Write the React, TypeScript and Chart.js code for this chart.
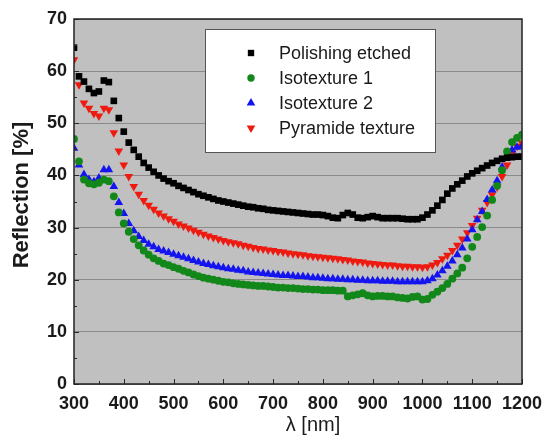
import React, { useEffect, useRef } from "react";
import { Chart, registerables } from "chart.js";
import { drawPoint } from "chart.js/helpers";

Chart.register(...registerables);

const wavelengths: number[] = [
  300, 310, 320, 330, 340, 350, 360, 370, 380, 390,
  400, 410, 420, 430, 440, 450, 460, 470, 480, 490,
  500, 510, 520, 530, 540, 550, 560, 570, 580, 590,
  600, 610, 620, 630, 640, 650, 660, 670, 680, 690,
  700, 710, 720, 730, 740, 750, 760, 770, 780, 790,
  800, 810, 820, 830, 840, 850, 860, 870, 880, 890,
  900, 910, 920, 930, 940, 950, 960, 970, 980, 990,
  1000, 1010, 1020, 1030, 1040, 1050, 1060, 1070, 1080, 1090,
  1100, 1110, 1120, 1130, 1140, 1150, 1160, 1170, 1180, 1190,
  1200,
];

const polishingEtched: number[] = [
  64.5, 59.0, 58.0, 56.6, 55.8, 56.1, 58.2, 57.9, 54.3, 51.0,
  48.4, 46.3, 44.9, 43.6, 42.4, 41.5, 40.7, 40.0, 39.4, 38.9,
  38.5, 38.0, 37.6, 37.2, 36.8, 36.4, 36.1, 35.8, 35.5, 35.2,
  35.0, 34.8, 34.6, 34.4, 34.2, 34.0, 33.9, 33.7, 33.6, 33.4,
  33.3, 33.2, 33.1, 33.0, 32.9, 32.8, 32.7, 32.6, 32.5, 32.5,
  32.4, 32.2, 31.9, 31.8, 32.4, 32.8, 32.5, 31.9, 31.8, 32.0,
  32.2, 32.0, 31.8, 31.8, 31.8, 31.8, 31.7, 31.6, 31.6, 31.6,
  31.9, 32.5, 33.3, 34.2, 35.3, 36.5, 37.5, 38.3, 39.0, 39.8,
  40.4, 40.9, 41.4, 41.9, 42.4, 42.8, 43.2, 43.4, 43.5, 43.6,
  43.6,
];

const isotexture1: number[] = [
  47.0, 42.7, 39.2, 38.5, 38.3, 38.6, 39.2, 38.9, 36.0, 32.9,
  30.8, 29.2, 27.8, 26.6, 25.6, 24.8, 24.1, 23.6, 23.1, 22.8,
  22.4, 22.1, 21.7, 21.4, 21.0, 20.7, 20.4, 20.2, 20.0, 19.8,
  19.6, 19.5, 19.3, 19.2, 19.1, 19.0, 18.9, 18.8, 18.8, 18.7,
  18.6, 18.5, 18.5, 18.4, 18.4, 18.3, 18.2, 18.2, 18.1, 18.1,
  18.0, 18.0, 18.0, 17.9, 17.9, 16.8, 17.0, 17.2, 17.4, 17.0,
  16.8, 16.9, 16.9, 16.8, 16.8, 16.6, 16.5, 16.4, 16.7, 16.8,
  16.2, 16.3, 17.1, 17.7, 18.4, 19.2, 20.2, 21.2, 22.3, 24.1,
  26.3, 28.2, 30.1, 32.3, 35.3, 38.0, 41.0, 44.6, 46.4, 47.2,
  47.8,
];

const isotexture2: number[] = [
  45.2, 42.0, 40.2, 39.2, 38.8, 39.5, 41.1, 41.1, 37.9, 34.8,
  32.7, 30.8, 29.4, 28.3, 27.5, 26.8, 26.3, 25.8, 25.5, 25.2,
  24.9, 24.6, 24.3, 24.0, 23.7, 23.4, 23.1, 22.9, 22.7, 22.5,
  22.3, 22.1, 22.0, 21.8, 21.7, 21.5, 21.4, 21.3, 21.2, 21.1,
  21.0, 20.9, 20.8, 20.8, 20.7, 20.6, 20.6, 20.5, 20.4, 20.4,
  20.3, 20.2, 20.2, 20.1, 20.1, 20.0, 20.0, 19.9, 19.9, 19.8,
  19.8, 19.8, 19.7, 19.7, 19.7, 19.6, 19.6, 19.6, 19.6, 19.6,
  19.6, 19.8, 20.2, 20.9, 21.7, 22.6, 23.6, 24.8, 26.1, 27.8,
  29.6, 31.5, 33.1, 35.4, 37.2, 39.0, 41.6, 43.5, 44.9, 45.4,
  45.6,
];

const pyramideTexture: number[] = [
  62.2, 57.4, 53.9, 52.9, 51.9, 51.4, 52.9, 52.6, 48.2, 44.7,
  42.0, 39.8, 37.9, 36.4, 35.2, 34.3, 33.5, 32.8, 32.2, 31.7,
  31.2, 30.7, 30.3, 29.9, 29.5, 29.1, 28.7, 28.4, 28.1, 27.8,
  27.5, 27.3, 27.1, 26.9, 26.6, 26.4, 26.2, 26.0, 25.9, 25.7,
  25.6, 25.4, 25.3, 25.1, 25.0, 24.9, 24.8, 24.6, 24.5, 24.4,
  24.3, 24.2, 24.1, 24.0, 23.9, 23.8, 23.6, 23.5, 23.4, 23.2,
  23.1, 23.0, 22.9, 22.8, 22.8, 22.7, 22.6, 22.6, 22.5, 22.5,
  22.4, 22.5, 22.8, 23.3, 24.0, 24.7, 25.6, 26.6, 27.8, 29.0,
  30.4, 31.8, 33.3, 34.8, 36.3, 37.8, 39.8, 42.0, 44.3, 45.6,
  46.2,
];

const seriesLabels: string[] = [
  "Polishing etched",
  "Isotexture 1",
  "Isotexture 2",
  "Pyramide texture",
];

const xTitle = "λ [nm]";
const yTitle = "Reflection [%]";

const FONT = "Arial, 'Liberation Sans', Helvetica, sans-serif";

const toXY = (vals: number[]) => vals.map((v, i) => ({ x: wavelengths[i], y: v }));

const decorPlugin = {
  id: "decor",
  beforeDraw(chart: any) {
    const { ctx, chartArea } = chart;
    ctx.save();
    ctx.fillStyle = "#ffffff";
    ctx.fillRect(0, 0, chart.width, chart.height);
    ctx.fillStyle = "#c0c0c0";
    ctx.fillRect(chartArea.left, chartArea.top, chartArea.right - chartArea.left, chartArea.bottom - chartArea.top);
    ctx.restore();
  },
  afterDatasetsDraw(chart: any) {
    const { ctx, chartArea, scales } = chart;
    const xs = scales.x;
    const ys = scales.y;
    ctx.save();
    ctx.strokeStyle = "#2a2a2a";
    ctx.lineWidth = 1;
    for (let v = 300; v <= 1200; v += 50) {
      const px = Math.round(xs.getPixelForValue(v)) + 0.5;
      const len = v % 100 === 0 ? 5 : 3;
      ctx.beginPath();
      ctx.moveTo(px, chartArea.bottom);
      ctx.lineTo(px, chartArea.bottom - len);
      ctx.stroke();
    }
    for (let v = 0; v <= 70; v += 5) {
      const py = Math.round(ys.getPixelForValue(v)) + 0.5;
      const len = v % 10 === 0 ? 5 : 3;
      ctx.beginPath();
      ctx.moveTo(chartArea.left, py);
      ctx.lineTo(chartArea.left + len, py);
      ctx.stroke();
    }
    ctx.strokeStyle = "#222222";
    ctx.lineWidth = 1.5;
    ctx.strokeRect(chartArea.left, chartArea.top, chartArea.right - chartArea.left, chartArea.bottom - chartArea.top);
    ctx.restore();
  },
  afterDraw(chart: any) {
    const { ctx } = chart;
    ctx.save();
    const bx = 205, by = 29, bw = 230, bh = 123;
    ctx.fillStyle = "#ffffff";
    ctx.fillRect(bx, by, bw, bh);
    ctx.strokeStyle = "#555555";
    ctx.lineWidth = 1;
    ctx.strokeRect(bx + 0.5, by + 0.5, bw, bh);
    const rowY = [53, 78, 103, 128];
    chart.data.datasets.forEach((ds: any, i: number) => {
      ctx.fillStyle = ds.backgroundColor;
      ctx.strokeStyle = ds.borderColor;
      drawPoint(
        ctx,
        {
          pointStyle: ds.pointStyle,
          rotation: ds.pointRotation || 0,
          radius: ds.legendRadius,
          borderWidth: 0,
        } as any,
        251,
        rowY[i]
      );
      ctx.fillStyle = "#1a1a1a";
      ctx.font = `18px ${FONT}`;
      ctx.textAlign = "left";
      ctx.textBaseline = "middle";
      ctx.fillText(ds.label, 279, rowY[i] + 1);
    });
    ctx.fillStyle = "#1a1a1a";
    ctx.font = `20px ${FONT}`;
    ctx.textAlign = "center";
    ctx.textBaseline = "middle";
    ctx.fillText(xTitle, 313, 425);
    ctx.save();
    ctx.translate(22, 195);
    ctx.rotate(-Math.PI / 2);
    ctx.font = `bold 22px ${FONT}`;
    ctx.fillText(yTitle, 0, 0);
    ctx.restore();
    ctx.restore();
  },
};

export default function App() {
  const canvasRef = useRef<HTMLCanvasElement | null>(null);

  useEffect(() => {
    if (!canvasRef.current) return;
    const chart = new Chart(canvasRef.current, {
      type: "scatter",
      data: {
        datasets: [
          {
            label: seriesLabels[0],
            data: toXY(polishingEtched),
            pointStyle: "rect",
            pointRadius: 4.7,
            backgroundColor: "#000000",
            borderColor: "#000000",
            borderWidth: 0,
            legendRadius: 4.5,
          } as any,
          {
            label: seriesLabels[1],
            data: toXY(isotexture1),
            pointStyle: "circle",
            pointRadius: 3.9,
            backgroundColor: "#12871a",
            borderColor: "#12871a",
            borderWidth: 0,
            legendRadius: 3.7,
          } as any,
          {
            label: seriesLabels[2],
            data: toXY(isotexture2),
            pointStyle: "triangle",
            pointRadius: 5,
            backgroundColor: "#1414f0",
            borderColor: "#1414f0",
            borderWidth: 0,
            legendRadius: 5,
          } as any,
          {
            label: seriesLabels[3],
            data: toXY(pyramideTexture),
            pointStyle: "triangle",
            pointRotation: 180,
            pointRadius: 5,
            backgroundColor: "#ee1a10",
            borderColor: "#ee1a10",
            borderWidth: 0,
            legendRadius: 5,
          } as any,
        ],
      },
      options: {
        responsive: false,
        animation: false,
        events: [],
        layout: { padding: { top: 19, right: 21, left: 0, bottom: 0 } },
        plugins: {
          legend: { display: false },
          tooltip: { enabled: false },
          title: { display: false },
        },
        scales: {
          x: {
            type: "linear",
            min: 300,
            max: 1200,
            afterFit: (s: any) => {
              s.height = 61;
              s.paddingLeft = 0;
              s.paddingRight = 0;
            },
            grid: { display: false, drawTicks: false },
            border: { display: false },
            ticks: {
              stepSize: 100,
              padding: 9,
              color: "#1a1a1a",
              font: { family: FONT, size: 18, weight: "bold" },
              maxRotation: 0,
              callback: (v: any) => String(v),
            },
          },
          y: {
            type: "linear",
            min: 0,
            max: 70,
            afterFit: (s: any) => {
              s.width = 74;
              s.paddingTop = 0;
              s.paddingBottom = 0;
            },
            grid: { display: true, drawTicks: false, color: "#8a8a8a", lineWidth: 1 },
            border: { display: false },
            ticks: {
              stepSize: 10,
              padding: 7,
              color: "#1a1a1a",
              font: { family: FONT, size: 18, weight: "bold" },
              callback: (v: any) => String(v),
            },
          },
        },
      },
      plugins: [decorPlugin],
    });
    return () => chart.destroy();
  }, []);

  return (
    <div style={{ position: "fixed", left: 0, top: 0, width: 543, height: 445, background: "#ffffff" }}>
      <canvas ref={canvasRef} width={543} height={445} style={{ width: 543, height: 445, display: "block" }} />
    </div>
  );
}
